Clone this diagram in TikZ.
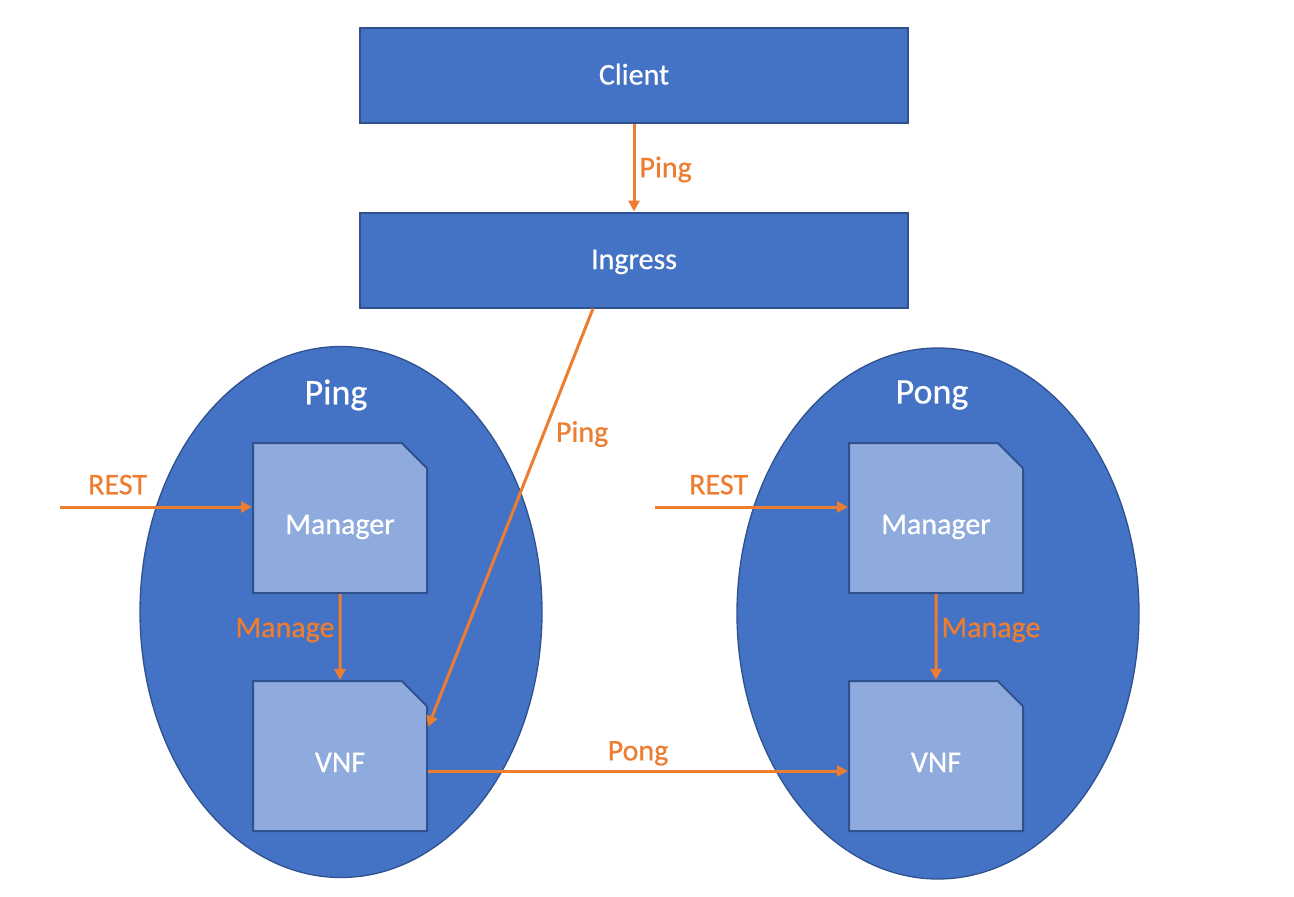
\documentclass[tikz,border=0pt]{standalone}
\usepackage{fontspec}
\setmainfont{Carlito}[FakeBold=0.6]
\usepackage{xcolor}
\usetikzlibrary{arrows.meta,positioning,shapes.geometric,shapes.misc}

\definecolor{boxblue}{HTML}{4472C4}
\definecolor{edgeblue}{HTML}{2F528F}
\definecolor{docblue}{HTML}{8FAADC}
\definecolor{flow}{HTML}{ED7D31}

\begin{document}
\begin{tikzpicture}[x=1pt,y=-1pt,
  bigbox/.style={draw=edgeblue,line width=2pt,fill=boxblue,text=white,
    minimum width=548pt,minimum height=95pt,text height=24pt,text depth=6pt,
    font=\fontsize{30}{36}\selectfont},
  service/.style={ellipse,draw=edgeblue,line width=1.3pt,fill=boxblue,
    inner sep=0pt,minimum width=402pt,minimum height=531pt},
  svctitle/.style={text=white,font=\fontsize{36}{43}\selectfont},
  doc/.style={chamfered rectangle,chamfered rectangle corners=north east,
    chamfered rectangle xsep=24pt,draw=edgeblue,line width=2pt,fill=docblue,
    text=white,inner sep=0pt,minimum width=174pt,minimum height=150pt,
    text height=38pt,text depth=6pt,font=\fontsize{30}{36}\selectfont},
  flowarrow/.style={draw=flow,line width=3pt,-{Triangle[length=11pt,width=11pt]}},
  flowlabel/.style={text=flow,inner sep=4pt,font=\fontsize{30}{36}\selectfont}]
\useasboundingbox (0,0) rectangle (1294,897);
\node[bigbox] (client) at (634,75.5) {Client};
\node[bigbox] (ingress) at (634,260) {Ingress};
\node[service] (pingsvc) at (341,612) {};
\node[service] (pongsvc) at (938,613.5) {};
\node[svctitle] (pingtitle) at (336,395) {Ping};
\node[svctitle] (pongtitle) at (932,395) {Pong};
\node[doc] (pingmgr) at (340,518) {Manager};
\node[doc] (pingvnf) at (340,756) {VNF};
\node[doc] (pongmgr) at (936,518) {Manager};
\node[doc] (pongvnf) at (936,756) {VNF};
\coordinate (pingrest) at (60,507);
\coordinate (pongrest) at (655,507);
\draw[flowarrow] (client) -- node[flowlabel,right,pos=0.52] {Ping} (ingress);
\draw[flowarrow] ([xshift=-41pt]ingress.south) -- node[flowlabel,right=7pt,pos=0.3] {Ping} ([yshift=29pt]pingvnf.east);
\draw[flowarrow] (pingrest) -- node[flowlabel,above=7pt,pos=0.3] {REST} ([yshift=11pt]pingmgr.west);
\draw[flowarrow] (pongrest) -- node[flowlabel,above=7pt,pos=0.33] {REST} ([yshift=11pt]pongmgr.west);
\draw[flowarrow] (pingmgr) -- node[flowlabel,left,pos=0.42] {Manage} (pingvnf);
\draw[flowarrow] (pongmgr) -- node[flowlabel,right,pos=0.42] {Manage} (pongvnf);
\draw[flowarrow] ([yshift=-15pt]pingvnf.east) -- node[flowlabel,above] {Pong} ([yshift=-15pt]pongvnf.west);
\end{tikzpicture}
\end{document}
